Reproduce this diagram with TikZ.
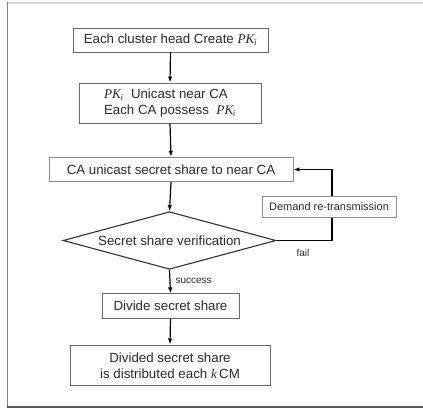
\documentclass[tikz,border=0pt]{standalone}
\usepackage{fontspec}
\setmainfont{Liberation Sans}
\newfontfamily\pkfont{Liberation Serif}
\usetikzlibrary{shapes.geometric,arrows.meta,backgrounds}
\newcommand{\PKi}{{\pkfont\itshape PK\textsubscript{\kern-0.5pt i}}}
\definecolor{boxgray}{HTML}{6A6A6A}
\definecolor{lightbox}{HTML}{8C8C8C}
\definecolor{txtcol}{HTML}{2B2B2B}
\tikzset{
  box/.style={draw=boxgray, line width=0.9pt, fill=white, inner sep=0pt,
    text=txtcol, font=\fontsize{13.3}{16}\selectfont},
  smallbox/.style={box, draw=lightbox, font=\fontsize{11}{13}\selectfont},
  lbl/.style={text=txtcol, font=\fontsize{10}{12}\selectfont, inner sep=0pt},
  arr/.style={draw=black, line width=1.2pt, -{Latex[length=6pt,width=4.5pt]}}
}
\begin{document}
\begin{tikzpicture}[x=1pt,y=-1pt]
\useasboundingbox (0,0) rectangle (423,408);
% page frame
\draw[draw=black!15, line width=2pt] (7,3) -- (423,3);
\draw[draw=black!50, line width=1.2pt] (7.5,2) -- (7.5,407);
\draw[draw=black!65, line width=1.5pt] (7,407) -- (423,407);

% process steps
\node[box, minimum width=195pt, minimum height=24pt] (b1) at (170.5,40)
  {Each cluster head Create \PKi};
\node[box, minimum width=182pt, minimum height=40pt, align=left] (b2) at (170,103)
  {\PKi\ \ Unicast near CA\\Each CA possess\ \ \PKi};
\node[box, draw=lightbox, minimum width=244pt, minimum height=24.5pt] (b3) at (171,169.5)
  {CA unicast secret share to near CA};
\node[diamond, draw=black!80, line width=1.1pt, fill=white, inner sep=0pt,
  minimum width=213pt, minimum height=57.6pt] (dia) at (169.5,240.5) {};
\node[text=txtcol, font=\fontsize{13.3}{16}\selectfont] (diatext) at (dia) {Secret share verification};
\node[smallbox, minimum width=134pt, minimum height=21pt] (dem) at (329,207)
  {Demand re-transmission};
\node[box, minimum width=137pt, minimum height=24.3pt] (b4) at (170.5,306)
  {Divide secret share};
\node[box, minimum width=200pt, minimum height=40.7pt, align=center] (b5) at (170,365.3)
  {Divided secret share\\is distributed each {\pkfont\itshape k}\,CM};

% connectors
\draw[arr] (b1.south) -- (b2.north);
\draw[arr] (b2.south) -- (b3.north);
\draw[arr] (b3.south) -- (dia.north);
\draw[arr] (dia.south) -- node[lbl, right=5pt, pos=0.45] (succ) {success} (b4.north);
\draw[arr] (b4.south) -- (b5.north);
\begin{pgfonlayer}{background}
\draw[arr] (dia.east) -| ([xshift=3pt]dem.center) |- (b3.east);
\end{pgfonlayer}
\node[lbl] (fail) at (303,253) {fail};
\end{tikzpicture}
\end{document}
